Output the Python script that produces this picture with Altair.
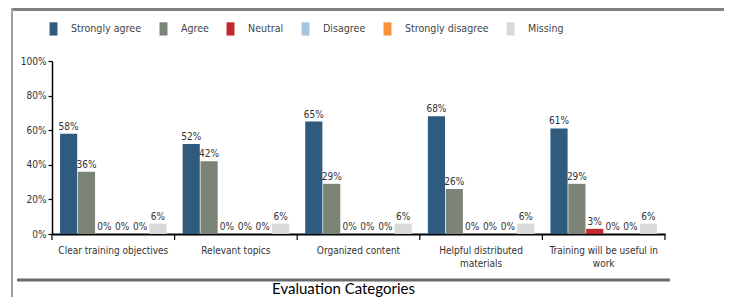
import altair as alt
import pandas as pd

categories = ["Clear training objectives", "Relevant topics", "Organized content",
              "Helpful distributed materials", "Training will be useful in work"]
series = ["Strongly agree", "Agree", "Neutral", "Disagree", "Strongly disagree", "Missing"]
colors = ["#2f5b7f", "#7b8477", "#c1272d", "#a7c4e2", "#f7923a", "#d9d9d9"]

strongly_agree = [58, 52, 65, 68, 61]
agree = [36, 42, 29, 26, 29]
neutral = [0, 0, 0, 0, 3]
disagree = [0, 0, 0, 0, 0]
strongly_disagree = [0, 0, 0, 0, 0]
missing = [6, 6, 6, 6, 6]

y_ticks = [0, 20, 40, 60, 80, 100]

all_vals = [strongly_agree, agree, neutral, disagree, strongly_disagree, missing]
rows = []
for i, c in enumerate(categories):
    for s, vals in zip(series, all_vals):
        rows.append({"category": c, "series": s, "value": vals[i], "label": f"{vals[i]}%"})
df = pd.DataFrame(rows)

FONT = "DejaVu Sans Condensed, Liberation Sans, sans-serif"
W, H = 613, 173

label_expr = ("datum.label == 'Helpful distributed materials' ? ['Helpful distributed', 'materials'] : "
              "datum.label == 'Training will be useful in work' ? ['Training will be useful in', 'work'] : datum.label")

x_scale = alt.Scale(paddingInner=0, paddingOuter=0)
x_axis = alt.Axis(title="Evaluation Categories", labelAngle=0, ticks=False,
                  domainColor="black", domainWidth=2,
                  labelFont=FONT, labelFontSize=10, labelColor="#333",
                  labelPadding=11, labelExpr=label_expr, labelLineHeight=13,
                  labelLimit=300,
                  titleFont="Lato", titleFontSize=15, titleFontWeight="normal",
                  titleColor="black", titleX=291, titleY=59,
                  titleAlign="center", titleBaseline="alphabetic")
y_scale = alt.Scale(domain=[0, 100], nice=False)
y_axis = alt.Axis(title=None, values=y_ticks, labelExpr="datum.value + '%'",
                  grid=False, domainColor="black", domainWidth=1.5,
                  tickColor="black", tickSize=4, tickWidth=1.2,
                  labelFont=FONT, labelFontSize=10, labelColor="#333",
                  labelPadding=2)

x_enc = alt.X("category:N", sort=categories, scale=x_scale, axis=x_axis)
xo_enc = alt.XOffset("series:N", sort=series,
                     scale=alt.Scale(paddingInner=0.04, paddingOuter=0.45))
y_enc = alt.Y("value:Q", scale=y_scale, axis=y_axis)

rect_path = "M-0.3,-0.5H0.3V0.5H-0.3Z"
color_enc = alt.Color("series:N", sort=series,
                      scale=alt.Scale(domain=series, range=colors),
                      legend=alt.Legend(title=None, orient="none", legendX=-12, legendY=-46,
                                        direction="horizontal", symbolType=rect_path,
                                        symbolSize=700, symbolStrokeWidth=0,
                                        symbolOpacity=1,
                                        labelFont=FONT, labelFontSize=10.6, labelColor="#444",
                                        labelOffset=4, columnPadding=8))

base = alt.Chart(df).encode(x=x_enc, xOffset=xo_enc, y=y_enc)
bars = base.mark_bar().encode(color=color_enc)
texts = base.mark_text(baseline="bottom", dy=-2, font=FONT, fontSize=10, color="#333").encode(
    text="label:N")

cat_df = pd.DataFrame({"category": categories})
ticks = alt.Chart(cat_df).mark_rule(color="black", strokeWidth=1.2).encode(
    x=alt.X("category:N", sort=categories, bandPosition=0, scale=x_scale, axis=x_axis),
    y=alt.value(H), y2=alt.value(H + 6))

one = pd.DataFrame({"k": [0]})
end_tick = alt.Chart(one).mark_rule(color="black", strokeWidth=1.2).encode(
    x=alt.value(W), y=alt.value(H), y2=alt.value(H + 6))
frame_top = alt.Chart(one).mark_rule(color="#808080", strokeWidth=3).encode(
    x=alt.value(-40), x2=alt.value(680), y=alt.value(-51.5))
frame_left = alt.Chart(one).mark_rule(color="#a0a0a0", strokeWidth=2).encode(
    x=alt.value(-40), y=alt.value(-53), y2=alt.value(240))
bottom_line = alt.Chart(one).mark_rule(color="#6a6a6a", strokeWidth=3).encode(
    x=alt.value(-35), x2=alt.value(618), y=alt.value(219))

chart = alt.layer(bars, texts, ticks, end_tick, frame_top, frame_left, bottom_line).properties(
    width=W, height=H,
    autosize=alt.AutoSizeParams(type="none"),
    padding={"left": 44, "top": 53, "right": 59, "bottom": 63},
    background="white",
).configure_view(stroke=None)

chart.save("out.html", embed_options={"renderer": "svg", "actions": False})
